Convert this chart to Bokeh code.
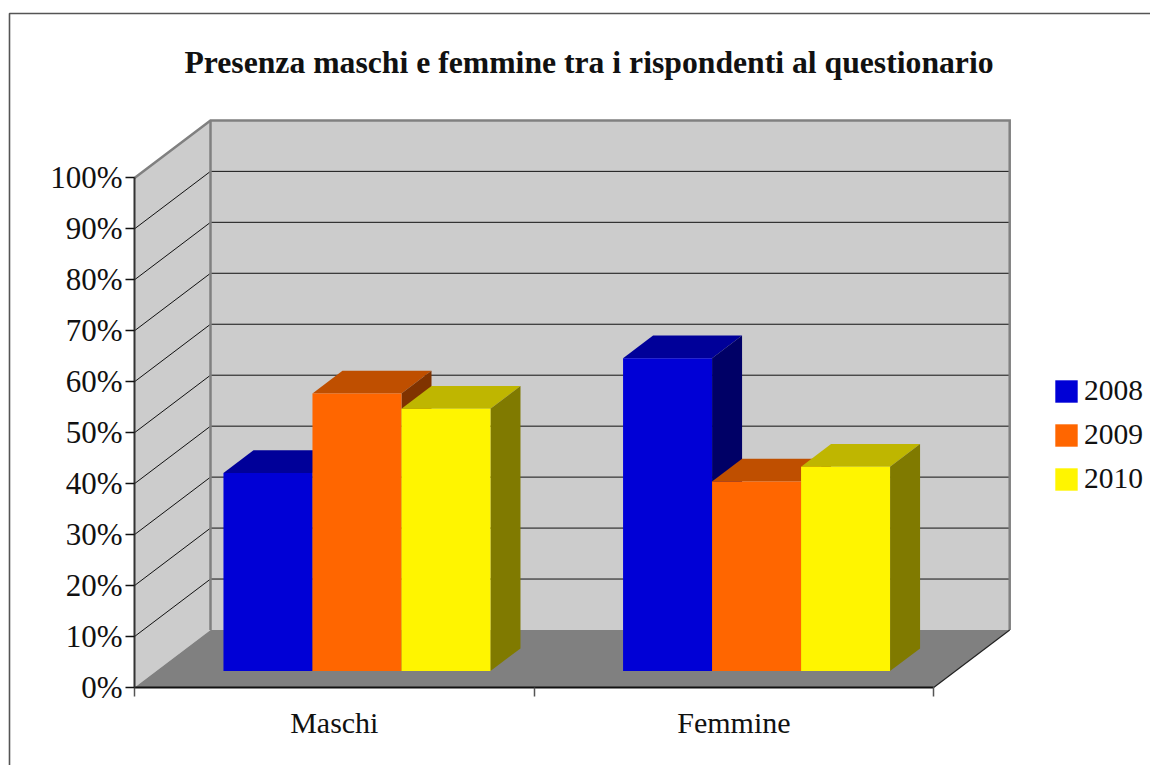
from bokeh.core.properties import value
from bokeh.embed import file_html
from bokeh.resources import INLINE
from bokeh.plotting import figure
from bokeh.models import (Range1d, LinearAxis, FixedTicker, BoxAnnotation, Legend, LegendItem)

# --- data -------------------------------------------------------------
TITLE = "Presenza maschi e femmine tra i rispondenti al questionario"
categories = ["Maschi", "Femmine"]
years = ["2008", "2009", "2010"]
values_2008 = [38.9, 61.4]
values_2009 = [54.5, 37.2]
values_2010 = [51.5, 40.1]
y_ticks = [0, 10, 20, 30, 40, 50, 60, 70, 80, 90, 100]
y_tick_labels = ["0%", "10%", "20%", "30%", "40%", "50%", "60%", "70%", "80%", "90%", "100%"]

front_colors = ["#0000d6", "#ff6600", "#fff500"]
top_colors = ["#000099", "#bf4f00", "#bfb600"]
side_colors = ["#000066", "#803300", "#807a00"]
series = [values_2008, values_2009, values_2010]

# --- geometry ---------------------------------------------------------
W, H = 1150, 765
ORIGIN_X, ORIGIN_Y = 134, 687   # where the axes cross, in page pixels
PX_X = 399.6      # pixels per category
PX_Y = 5.096      # pixels per percent
DEPTH_X = 76 / PX_X    # wall depth in x units
DEPTH_Y = 57.5 / PX_Y  # wall depth in y units
BAR_W = 89 / PX_X
BAR_SHIFT = 1 / PX_X
D_FRONT = 0.285        # bar's front face, as a fraction of the depth
D_BAR = 0.395          # bar's depth, as a fraction of the depth
FONT = "Liberation Serif"

p = figure(width=W, height=H, output_backend="svg", toolbar_location=None,
           x_range=Range1d(-ORIGIN_X / PX_X, (W - ORIGIN_X) / PX_X),
           y_range=Range1d(-(H - ORIGIN_Y) / PX_Y, ORIGIN_Y / PX_Y),
           min_border_left=0, min_border_right=0,
           min_border_top=0, min_border_bottom=0,
           x_axis_type=None, y_axis_type=None)
p.outline_line_color = None
p.background_fill_color = "white"
p.border_fill_color = "white"
p.xgrid.visible = False
p.ygrid.visible = False


def proj(x, y, d):
    return x + d * DEPTH_X, y + d * DEPTH_Y


n = len(categories)
ymax = y_ticks[-1]
WALL = "#cccccc"
EDGE = "#808080"

# back wall, side wall, floor
c = [proj(0, 0, 1), proj(n, 0, 1), proj(n, ymax, 1), proj(0, ymax, 1)]
p.patch([q[0] for q in c], [q[1] for q in c], fill_color=WALL, line_color=None)
c = [proj(0, 0, 0), proj(0, 0, 1), proj(0, ymax, 1), proj(0, ymax, 0)]
p.patch([q[0] for q in c], [q[1] for q in c], fill_color=WALL, line_color=None)
c = [proj(0, 0, 0), proj(n, 0, 0), proj(n, 0, 1), proj(0, 0, 1)]
p.patch([q[0] for q in c], [q[1] for q in c], fill_color=EDGE, line_color=None)

# gridlines
gx, gy = [], []
for t in y_ticks[1:-1]:
    a, b, e = proj(0, t, 0), proj(0, t, 1), proj(n, t, 1)
    gx.append([a[0], b[0], e[0]])
    gy.append([a[1], b[1], e[1]])
p.multi_line(gx, gy, line_color="#111111", line_width=1)

# wall edges
a, b, e, f = proj(0, ymax, 0), proj(0, ymax, 1), proj(n, ymax, 1), proj(n, 0, 1)
p.line([a[0], b[0], e[0], f[0]], [a[1], b[1], e[1], f[1]], line_color=EDGE, line_width=2.5, line_join="miter")
g = proj(0, 0, 1)
p.line([b[0], g[0]], [b[1], g[1]], line_color=EDGE, line_width=2.5)
h = proj(n, 0, 0)
p.line([h[0], f[0]], [h[1], f[1]], line_color="#222222", line_width=1.2)

# bars, painted series by series from left to right
items = []
for s, vals in enumerate(series):
    lefts = [i + 0.5 + (s - 1.5) * BAR_W + BAR_SHIFT for i in range(n)]
    rights = [l + BAR_W for l in lefts]
    dx0, dy0 = proj(0, 0, D_FRONT)
    dx1, dy1 = proj(0, 0, D_FRONT + D_BAR)
    tx, ty, sx, sy = [], [], [], []
    for l, r, v in zip(lefts, rights, vals):
        tx.append([l + dx0, r + dx0, r + dx1, l + dx1])
        ty.append([v + dy0, v + dy0, v + dy1, v + dy1])
        sx.append([r + dx0, r + dx1, r + dx1, r + dx0])
        sy.append([dy0, dy1, v + dy1, v + dy0])
    p.patches(tx, ty, fill_color=top_colors[s], line_color=None)
    p.patches(sx, sy, fill_color=side_colors[s], line_color=None)
    front = p.quad(left=[l + dx0 for l in lefts], right=[r + dx0 for r in rights],
                   bottom=[dy0] * n, top=[v + dy0 for v in vals],
                   fill_color=front_colors[s], line_color=None)
    items.append(LegendItem(label=years[s], renderers=[front]))

# axes, pinned to the origin of the chart inside the full-page frame
yaxis = LinearAxis(ticker=FixedTicker(ticks=y_ticks),
                   major_label_overrides=dict(zip(y_ticks, y_tick_labels)),
                   bounds=(y_ticks[0], y_ticks[-1]), fixed_location=0)
yaxis.axis_line_color = "#333333"
yaxis.axis_line_width = 2
yaxis.major_tick_out = 9
yaxis.major_tick_in = 0
yaxis.major_tick_line_color = "#111111"
yaxis.major_tick_line_width = 1.5
yaxis.minor_tick_line_color = None
yaxis.major_label_standoff = 3
yaxis.major_label_text_font = FONT
yaxis.major_label_text_font_size = "31px"
yaxis.major_label_text_color = "#111111"
p.add_layout(yaxis, "left")

cat_pos = [i + 0.5 for i in range(n)]
xaxis = LinearAxis(ticker=FixedTicker(ticks=cat_pos, minor_ticks=list(range(n + 1))),
                   major_label_overrides=dict(zip(cat_pos, categories)),
                   bounds=(0, n), fixed_location=0)
xaxis.axis_line_color = "#111111"
xaxis.axis_line_width = 2
xaxis.major_tick_line_color = None
xaxis.major_tick_out = 0
xaxis.major_tick_in = 0
xaxis.minor_tick_out = 9
xaxis.minor_tick_in = 0
xaxis.minor_tick_line_color = "#555555"
xaxis.minor_tick_line_width = 1.5
xaxis.major_label_standoff = 9
xaxis.major_label_text_font = FONT
xaxis.major_label_text_font_size = "30px"
xaxis.major_label_text_color = "#111111"
p.add_layout(xaxis, "below")

# legend
legend = Legend(items=items, location=(1052, 270), orientation="vertical",
                background_fill_alpha=0, border_line_color=None,
                padding=0, margin=0, spacing=11, glyph_width=28, glyph_height=28,
                label_standoff=4, label_text_font=FONT, label_text_font_size="29.5px",
                label_text_color="#111111")
p.add_layout(legend, "center")

# title
p.text(x=[(588.5 - ORIGIN_X) / PX_X], y=[(ORIGIN_Y - 62) / PX_Y], text=[TITLE],
       text_align="center", text_baseline="middle",
       text_font=value(FONT), text_font_size="31.7px", text_font_style="bold",
       text_color="#111111")

# outer chart border
border = BoxAnnotation(left=9, right=W + 20, top=13, bottom=H + 20,
                       left_units="canvas", right_units="canvas",
                       top_units="canvas", bottom_units="canvas",
                       fill_alpha=0, line_color="#555555", line_alpha=1, line_width=1.6)
p.add_layout(border)

open("out.html", "w").write(file_html(p, INLINE))
